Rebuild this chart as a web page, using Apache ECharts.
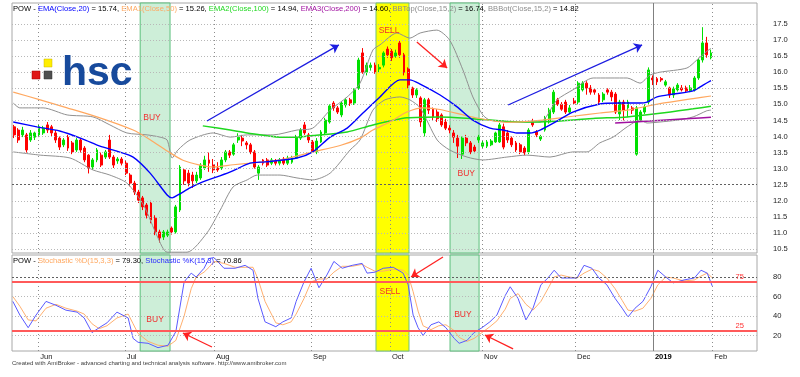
<!DOCTYPE html>
<html>
<head>
<meta charset="utf-8">
<title>POW</title>
<script src="https://cdn.jsdelivr.net/npm/echarts@6/dist/echarts.min.js"></script>
<style>
  html, body { margin: 0; padding: 0; background: #fff; }
  #chart { width: 800px; height: 377px; }
</style>
</head>
<body>
<div id="chart"></div>
<script>
// daily bars, index 0 = first bar on the left: [open, close, low, high]
const ohlc = [
  [14.30,14.05,13.95,14.36],[14.20,13.89,13.80,14.26],[14.05,14.20,13.98,14.30],[14.05,13.58,13.50,14.11],
  [13.89,14.11,13.83,14.20],[13.98,14.11,13.89,14.15],[14.05,14.30,13.98,14.36],[14.11,14.26,14.05,14.33],
  [14.36,14.20,14.11,14.45],[14.30,14.11,14.00,14.36],[14.11,13.89,13.80,14.20],[13.95,13.67,13.58,14.00],
  [13.74,13.89,13.67,13.95],[13.98,13.64,13.55,14.05],[13.80,13.52,13.45,13.86],[13.58,13.89,13.52,13.95],
  [13.89,13.58,13.50,13.95],[13.64,13.27,13.20,13.70],[13.42,13.02,12.85,13.45],[13.05,13.27,12.96,13.33],
  [13.27,13.58,13.20,13.64],[13.42,13.11,13.05,13.50],[13.36,13.52,13.30,13.58],[13.89,13.36,13.30,14.05],
  [13.36,13.11,13.02,13.42],[13.24,13.30,13.15,13.36],[13.30,13.17,13.10,13.36],[13.17,12.86,12.80,13.24],
  [12.80,12.55,12.45,12.86],[12.55,12.27,12.18,12.62],[12.27,12.02,11.93,12.34],[12.09,11.81,11.71,12.15],
  [11.87,11.55,11.45,11.93],[11.93,11.40,11.30,12.00],[11.46,11.03,10.93,11.55],[11.03,10.84,10.70,11.10],
  [10.87,11.03,10.78,11.09],[10.93,11.03,10.87,11.10],[11.15,11.03,10.95,11.20],[11.03,11.81,10.98,11.87],
  [11.71,13.05,11.65,13.11],[12.96,12.62,12.50,13.02],[12.86,12.55,12.45,12.96],[12.80,12.62,12.40,12.90],
  [12.62,12.80,12.55,12.90],[12.71,13.11,12.65,13.17],[13.02,13.27,12.96,13.40],[13.27,13.17,12.90,13.50],
  [13.11,12.96,12.86,13.30],[13.02,12.96,12.90,13.20],[13.02,13.27,12.96,13.36],[13.27,13.52,13.20,13.58],
  [13.52,13.42,13.33,13.58],[13.45,13.74,13.40,13.80],[13.89,13.98,13.80,14.10],[13.95,13.86,13.70,14.05],
  [13.80,13.74,13.60,13.86],[13.74,13.52,13.45,13.80],[13.52,13.05,13.00,13.58],[12.86,13.05,12.65,13.11],
  [13.27,13.17,13.10,13.30],[13.27,13.11,13.05,13.33],[13.17,13.27,13.11,13.33],[13.24,13.17,13.10,13.30],
  [13.17,13.27,13.10,13.33],[13.30,13.17,13.11,13.36],[13.17,13.33,13.11,13.40],[13.20,13.33,13.15,13.40],
  [13.33,13.98,13.30,14.05],[13.95,14.20,13.89,14.26],[14.36,14.11,14.05,14.45],[14.05,13.89,13.80,14.11],
  [13.83,13.52,13.49,13.89],[13.52,13.86,13.45,13.95],[13.83,14.14,13.80,14.20],[14.11,14.51,14.05,14.58],
  [14.45,14.95,14.40,15.00],[15.04,14.89,14.80,15.10],[14.89,14.76,14.70,14.95],[14.67,15.04,14.60,15.10],
  [14.98,15.14,14.90,15.20],[15.14,15.04,14.95,15.20],[15.04,15.45,14.98,15.50],[15.50,16.38,15.45,16.45],
  [16.60,16.00,15.95,16.75],[16.00,16.22,15.90,16.30],[16.15,16.22,16.05,16.30],[16.22,16.00,15.95,16.30],
  [16.10,16.15,16.00,16.25],[16.22,16.60,16.15,16.65],[16.72,16.54,16.45,16.80],[16.65,16.45,16.35,16.72],
  [16.50,16.60,16.45,16.70],[16.91,16.54,16.45,17.00],[16.54,16.00,15.90,16.60],[16.10,15.60,15.50,16.15],
  [15.51,15.29,15.20,15.55],[15.29,15.45,15.20,15.50],[15.20,14.45,14.30,15.25],[14.11,15.14,14.00,15.20],
  [15.14,14.82,14.70,15.20],[14.85,14.61,14.50,14.90],[14.76,14.55,14.45,14.85],[14.67,14.36,14.30,14.72],
  [14.45,14.26,14.20,14.55],[14.26,14.20,14.10,14.35],[14.11,13.98,13.80,14.20],[13.95,13.70,13.33,14.05],
  [13.45,13.95,13.30,14.00],[13.95,13.80,13.70,14.05],[13.80,13.52,13.45,13.86],[13.67,13.55,13.48,13.74],
  [13.89,13.98,13.80,14.05],[13.70,13.80,13.64,13.86],[13.70,13.83,13.64,13.89],[13.74,13.86,13.70,13.92],
  [13.83,14.11,13.80,14.15],[13.83,14.36,13.80,14.42],[14.30,13.67,13.60,14.40],[14.11,13.89,13.80,14.20],
  [13.95,13.74,13.67,14.00],[13.80,13.58,13.52,13.86],[13.74,13.52,13.45,13.80],[13.64,13.49,13.42,13.70],
  [13.52,14.20,13.45,14.26],[14.45,14.36,14.30,14.55],[14.14,14.05,13.98,14.20],[13.92,14.00,13.86,14.05],
  [14.20,14.58,14.15,14.64],[14.45,14.82,14.40,14.89],[14.76,15.38,14.70,15.45],[15.14,15.00,14.95,15.20],
  [15.00,14.85,14.80,15.07],[15.07,14.76,14.70,15.14],[14.76,14.89,14.70,14.98],[15.10,15.04,14.98,15.20],
  [15.07,15.66,15.00,15.72],[15.45,15.66,15.40,15.72],[15.66,15.51,15.30,15.72],[15.51,15.38,15.30,15.60],
  [15.45,15.38,15.30,15.50],[15.29,15.07,15.00,15.35],[15.14,15.32,15.07,15.38],[15.45,15.38,15.30,15.50],
  [15.38,15.23,15.10,15.45],[15.32,14.76,14.70,15.38],[14.70,15.07,14.51,15.14],[15.07,14.82,14.50,15.14],
  [14.89,15.07,14.60,15.14],[14.89,14.82,14.70,14.95],[13.45,14.89,13.40,14.95],[14.51,14.76,14.45,14.82],
  [14.76,14.92,14.70,15.00],[15.07,16.07,15.00,16.15],[15.82,15.76,15.60,15.90],[15.80,15.70,15.60,15.85],
  [15.80,15.76,15.70,15.85],[15.60,15.70,15.55,15.76],[15.51,15.29,15.20,15.55],[15.29,15.48,15.20,15.55],
  [15.45,15.60,15.40,15.66],[15.51,15.45,15.40,15.60],[15.51,15.42,15.38,15.58],[15.42,15.51,15.38,15.60],
  [15.45,15.82,15.40,15.88],[15.82,16.38,15.76,16.45],[16.38,16.91,16.30,17.40],[16.91,16.54,16.45,17.10],
  [16.45,16.60,16.40,16.70]
];

// overlays: [bar index, value]
const ema20 = [[-0.2,14.45],[5.5,14.30],[11,14.17],[16.6,13.92],[20.7,13.70],[24.6,13.55],[28.7,13.36],
  [32.8,12.86],[36.9,12.18],[38.1,12.09],[39.5,12.18],[42.4,12.40],[44.8,12.55],[52,12.89],[56.9,13.17],
  [60.5,13.21],[68.2,13.33],[72,13.52],[76.2,13.98],[80.3,14.26],[84.1,14.73],[88.2,15.23],[93,15.76],
  [95.4,15.76],[97.9,15.63],[102.7,15.29],[106.8,14.92],[110.6,14.51],[114.7,14.26],[117.9,14.20],
  [121.2,14.11],[124.4,14.11],[126.8,14.20],[130.9,14.48],[134.7,14.76],[141.2,15.01],[146,15.04],
  [150.9,15.04],[152.6,15.07],[155,15.23],[158.9,15.32],[163.7,15.42],[166.1,15.60],[168,15.74]];
const ema50 = [[-0.2,15.38],[6.3,15.14],[12.8,14.89],[20.7,14.58],[28.7,14.20],[32.8,13.90],[36.9,13.55],
  [40.7,13.26],[44.8,13.11],[48,13.05],[52.8,13.12],[58.6,13.19],[64.1,13.27],[72,13.52],[78.6,13.72],
  [83.4,13.95],[86.5,14.20],[90.6,14.45],[94.7,14.76],[98.6,14.89],[102.7,14.84],[110.6,14.60],
  [118.8,14.44],[126.8,14.50],[134.7,14.63],[141.2,14.73],[147.8,14.82],[155.7,15.02],[163.7,15.18],[168,15.26]];
const ema100 = [[45.5,14.33],[52.1,14.20],[56.2,14.11],[64.1,13.98],[68.2,13.98],[72,14.03],[80.3,14.14],
  [86.5,14.36],[94.7,14.58],[102.7,14.61],[110.6,14.55],[118.8,14.47],[126.8,14.45],[134.7,14.51],
  [139.6,14.56],[147.8,14.61],[155.7,14.72],[163.7,14.86],[168,14.94]];
const ema200 = [[144.9,14.42],[153.3,14.48],[163,14.56],[168,14.60]];
const bbTop = [[-0.2,15.04],[1.4,14.89],[7,14.89],[12.8,14.67],[19,14.61],[23.1,14.36],[27.2,14.11],
  [32.1,14.05],[35.2,13.98],[36.9,13.89],[38.1,13.33],[39.5,13.58],[42.4,13.89],[48,14.11],[52.1,13.98],
  [56.2,14.05],[62.4,14.05],[68.2,14.20],[72,14.26],[76.2,14.82],[80.3,15.23],[83.4,15.66],[86.5,16.69],
  [88.2,16.85],[92.3,17.22],[95.4,17.06],[97.9,17.22],[101.9,17.31],[105,17.00],[108.2,16.07],[110.6,15.23],
  [113,14.67],[114.7,14.51],[119.5,14.45],[126.8,14.45],[130.9,15.14],[134.7,15.45],[139.6,15.82],
  [147.8,15.82],[150.9,15.66],[153.3,15.91],[155.7,16.00],[162.2,16.13],[164.6,16.38],[167,16.65],[168,16.74]];
const bbBot = [[-0.2,13.52],[6.3,13.42],[13.5,13.33],[19,12.96],[23.1,12.80],[27.2,12.55],[31.2,11.87],
  [34.6,10.87],[36.9,10.40],[41.7,10.40],[46.5,11.00],[49.7,11.71],[52.8,12.43],[56.2,12.65],[58.6,12.80],
  [64.1,12.80],[68.2,12.71],[72,12.65],[76.2,12.86],[81,13.58],[83.4,13.89],[86.5,14.82],[89.4,15.14],
  [93,15.23],[95.4,15.14],[97.9,14.89],[102,13.89],[105,13.58],[109.2,13.36],[113,13.27],[118.8,13.36],
  [123.6,13.42],[129.2,13.36],[134.7,13.52],[138.1,13.52],[141.2,13.80],[144.4,13.98],[147.8,14.30],
  [150.9,14.51],[152.6,14.42],[155.7,14.45],[159.9,14.51],[163.7,14.61],[167,14.80],[168,14.82]];

const stochK = [[-0.3,55],[1.4,41],[3.4,28],[5.3,41],[7.7,55],[10.1,51],[12.5,46],[15.2,44],[16.9,38],
  [18.8,23],[20.5,28],[22.4,33],[24.8,44],[27.5,38],[28.7,17],[29.9,13],[32.3,12],[34.7,7.5],[37.1,10],
  [39,24],[41,75],[42.7,84],[43.9,80],[45.8,89],[47,99],[48.2,100],[50.6,89],[53.3,89],[55.7,92],[57.6,87],
  [58.8,58],[60.5,34],[63.1,29],[64.8,34],[66.8,38],[68,55],[69.9,75],[71.6,89],[73.5,69],[75.4,82],
  [77.1,96],[79.1,89],[81.5,92],[83.9,94],[85.1,84],[87,85],[89,89],[91.4,90],[93.8,84],[95,72],[96.2,41],
  [97.4,28],[98.6,20],[100.5,31],[102.4,34],[104.1,28],[106.1,17],[107.3,12],[109.2,15],[110.9,23],
  [112.8,28],[114.7,34],[116.4,41],[118.4,61],[119.6,70],[121.5,58],[123.4,36],[125.1,48],[127,72],
  [128.7,79],[130.2,87],[131.9,79],[133.8,79],[135.7,79],[137.4,92],[139.3,89],[141,79],[142.9,72],
  [144.9,58],[146.6,48],[148,39],[149.7,48],[151.6,55],[153.5,70],[155.2,87],[157.1,80],[158.9,74],
  [161.5,77],[164,79],[165.6,87],[167.1,84],[168.3,70.86]];
const stochD = [[-0.3,60],[1.4,50],[3.4,36],[5.3,35],[7.7,48],[10.1,52],[12.5,48],[15.2,45],[16.9,42],
  [18.8,32],[20.5,27],[22.4,30],[24.8,38],[27.5,42],[28.7,32],[29.9,22],[32.3,14],[34.7,10],[37.1,9],
  [39,15],[41,40],[42.7,68],[43.9,80],[45.8,85],[47,90],[48.2,96],[50.6,94],[53.3,90],[55.7,90],[57.6,90],
  [58.8,78],[60.5,55],[63.1,33],[64.8,31],[66.8,34],[68,42],[69.9,58],[71.6,75],[73.5,78],[75.4,78],
  [77.1,85],[79.1,91],[81.5,91],[83.9,93],[85.1,90],[87,86],[89,86],[91.4,88],[93.8,87],[95,82],[96.2,65],
  [97.4,45],[98.6,30],[100.5,26],[102.4,30],[104.1,31],[106.1,25],[107.3,18],[109.2,14],[110.9,17],
  [112.8,23],[114.7,29],[116.4,35],[118.4,47],[119.6,58],[121.5,63],[123.4,52],[125.1,46],[127,55],
  [128.7,68],[130.2,80],[131.9,82],[133.8,80],[135.7,79],[137.4,84],[139.3,88],[141,86],[142.9,79],
  [144.9,68],[146.6,56],[148,46],[149.7,45],[151.6,48],[153.5,58],[155.2,72],[157.1,80],[158.9,79],
  [161.5,76],[164,77],[165.6,81],[167.1,84],[168.3,79.30]];

const priceTicks = [10.5, 11, 11.5, 12, 12.5, 13, 13.5, 14, 14.5, 15, 15.5, 16, 16.5, 17, 17.5];
const stochTicks = [20, 40, 60, 80];
const monthTicks = [5.8, 26.7, 48.2, 71.6, 90.6, 112.8, 135.2, 154.0, 168.3];
const monthNames = ['Jun', 'Jul', 'Aug', 'Sep', 'Oct', 'Nov', 'Dec', '2019', 'Feb'];
const stochLevels = [75, 25];

// annotations drawn on the chart (bar index / value coordinates)
const buyZones = [[30.4, 37.6], [105.1, 112.1]];
const sellZones = [[87.25, 95.2]];
const topNotes = [['BUY', 33.25, 14.58], ['SELL', 90.4, 17.28], ['BUY', 109.0, 12.85]];
const lowNotes = [['BUY', 34.0, 35.9], ['SELL', 90.6, 64.6], ['BUY', 108.2, 41.0]];
const topArrows = [
  [[46.5, 14.48], [78.3, 16.85], '#1c1ce0'],
  [[119.1, 14.98], [151.4, 16.85], '#1c1ce0'],
  [[97.1, 16.94], [104.4, 16.13], '#ff2020']
];
const lowArrows = [
  [[47.7, 8.2], [40.7, 22.6]],
  [[103.4, 100.5], [95.7, 80.0]],
  [[120.3, 6.2], [113.5, 20.5]]
];

const FONT = 'Liberation Sans, Arial, sans-serif';
const FS = 7.6;
const lastVal = a => a[a.length - 1][1].toFixed(2);
const candleData = ohlc.map((d, i) => [i, d[0], d[1], d[2], d[3]]);

const dotted = { color: '#b8b8b8', type: [1, 2], width: 1 };
const vDotted = { color: '#8c8c8c', type: [1, 3], width: 1 };
const darkDotted = { color: '#606060', type: [2, 2], width: 1 };
function hLines(values, dark) {
  return values.map(v => ({ yAxis: v, lineStyle: v === dark ? darkDotted : dotted }));
}
function vLines() {
  return monthTicks.map((v, i) => ({
    xAxis: v,
    lineStyle: monthNames[i] === '2019' ? { color: '#808080', type: 'solid', width: 1 } : vDotted
  }));
}
function zones() {
  const g = buyZones.map(z => [{ xAxis: z[0], itemStyle: { color: '#cdeed8', borderColor: '#5cbf7c', borderWidth: 1 } }, { xAxis: z[1] }]);
  const s = sellZones.map(z => [{ xAxis: z[0], itemStyle: { color: '#ffff00', borderColor: '#72c27a', borderWidth: 1 } }, { xAxis: z[1] }]);
  return g.concat(s);
}
function notes(list) {
  return list.map(n => ({ name: n[0], coord: [n[1], n[2]] }));
}
function arrows(list, color) {
  return list.map(a => [
    { coord: a[0], lineStyle: { color: a[2] || color, width: 1.3, type: 'solid' } },
    { coord: a[1] }
  ]);
}
const noteStyle = {
  symbol: 'rect', symbolSize: 1, silent: true,
  itemStyle: { color: 'rgba(0,0,0,0)' },
  label: { show: true, position: 'inside', formatter: p => p.name, color: '#f03030', fontSize: 8.5, fontFamily: FONT }
};

function lineSeries(name, data, color, width, grid) {
  return {
    name, type: 'line', data, xAxisIndex: grid, yAxisIndex: grid,
    symbol: 'none', smooth: grid === 0 ? 0.25 : false, z: 4,
    lineStyle: { color, width }
  };
}

const topTitle = [
  ['POW - ', '#000'], ['EMA(Close,20)', '#0000ff'], [' = ' + lastVal(ema20) + ', ', '#000'],
  ['EMA1(Close,50)', '#ffa860'], [' = ' + lastVal(ema50) + ', ', '#000'],
  ['EMA2(Close,100)', '#1ed81e'], [' = ' + lastVal(ema100) + ', ', '#000'],
  ['EMA3(Close,200)', '#a010a0'], [' = ' + lastVal(ema200) + ', ', '#000'],
  ['BBTop(Close,15,2)', '#8c8c8c'], [' = ' + lastVal(bbTop) + ', ', '#000'],
  ['BBBot(Close,15,2)', '#8c8c8c'], [' = ' + lastVal(bbBot), '#000']
];
const lowTitle = [
  ['POW - ', '#000'], ['Stochastic %D(15,3,3)', '#ffa860'], [' = ' + lastVal(stochD) + ', ', '#000'],
  ['Stochastic %K(15,3)', '#2a2aff'], [' = ' + lastVal(stochK), '#000']
];
function richTitle(parts) {
  const rich = {};
  let text = '';
  parts.forEach((p, i) => {
    rich['c' + i] = { fill: p[1], color: p[1], fontSize: FS, fontFamily: FONT };
    text += '{c' + i + '|' + p[0] + '}';
  });
  return { text, rich };
}

const chart = echarts.init(document.getElementById('chart'));
const option = {
  animation: false,
  backgroundColor: '#ffffff',
  grid: [
    { left: 12, top: 3, width: 745, height: 250, show: true, borderColor: '#a8a8a8', borderWidth: 1 },
    { left: 12, top: 255, width: 745, height: 96, show: true, borderColor: '#a8a8a8', borderWidth: 1 }
  ],
  xAxis: [
    { gridIndex: 0, type: 'value', min: -0.5, max: 179.1, show: false },
    {
      gridIndex: 1, type: 'value', min: -0.5, max: 179.1,
      axisLine: { show: false }, axisTick: { show: false }, splitLine: { show: false },
      axisLabel: {
        customValues: monthTicks, align: 'left', margin: 2, padding: [0, 0, 0, 2],
        fontSize: FS, fontFamily: FONT, color: '#222',
        formatter: v => {
          let k = 0;
          monthTicks.forEach((m, i) => { if (Math.abs(m - v) < Math.abs(monthTicks[k] - v)) k = i; });
          return monthNames[k] === '2019' ? '{y|2019}' : monthNames[k];
        },
        rich: { y: { fontWeight: 'bold', fontSize: FS, fontFamily: FONT, color: '#000' } }
      }
    }
  ],
  yAxis: [
    {
      gridIndex: 0, type: 'value', position: 'right', min: 10.375, max: 18.153,
      axisLine: { show: false }, axisTick: { show: false }, splitLine: { show: false },
      axisLabel: { customValues: priceTicks, formatter: v => v.toFixed(1), margin: 16, fontSize: FS, fontFamily: FONT, color: '#222' }
    },
    {
      gridIndex: 1, type: 'value', position: 'right', min: 4.1, max: 102.6,
      axisLine: { show: false }, axisTick: { show: false }, splitLine: { show: false },
      axisLabel: { customValues: stochTicks, margin: 16, fontSize: FS, fontFamily: FONT, color: '#222' }
    }
  ],
  series: [
    // top pane
    {
      type: 'line', data: [], xAxisIndex: 0, yAxisIndex: 0, z: 1,
      markArea: { silent: true, label: { show: false }, data: zones() }
    },
    {
      type: 'line', data: [], xAxisIndex: 0, yAxisIndex: 0, z: 2,
      markLine: { silent: true, symbol: 'none', label: { show: false }, data: hLines(priceTicks, 12.5).concat(vLines()) }
    },
    {
      name: 'POW', type: 'candlestick', data: candleData, xAxisIndex: 0, yAxisIndex: 0, z: 3,
      barWidth: 2.4,
      itemStyle: { color: '#00e000', color0: '#ff0000', borderColor: '#00e000', borderColor0: '#ff0000', borderWidth: 1 }
    },
    lineSeries('BBTop', bbTop, '#909090', 1, 0),
    lineSeries('BBBot', bbBot, '#909090', 1, 0),
    lineSeries('EMA200', ema200, '#a010a0', 1.5, 0),
    lineSeries('EMA100', ema100, '#1ed81e', 1.5, 0),
    lineSeries('EMA50', ema50, '#ffa860', 1.2, 0),
    lineSeries('EMA20', ema20, '#0000ff', 1.4, 0),
    {
      type: 'line', data: [], xAxisIndex: 0, yAxisIndex: 0, z: 6,
      markLine: { silent: true, symbol: ['none', 'arrow'], symbolSize: 8, label: { show: false }, data: arrows(topArrows) },
      markPoint: Object.assign({ data: notes(topNotes) }, noteStyle)
    },
    // stochastic pane
    {
      type: 'line', data: [], xAxisIndex: 1, yAxisIndex: 1, z: 1,
      markArea: { silent: true, label: { show: false }, data: zones() }
    },
    {
      type: 'line', data: [], xAxisIndex: 1, yAxisIndex: 1, z: 2,
      markLine: { silent: true, symbol: 'none', label: { show: false }, data: hLines(stochTicks, 80).concat(vLines()) }
    },
    lineSeries('%D', stochD, '#ffb070', 1, 1),
    lineSeries('%K', stochK, '#5a5aff', 1, 1),
    {
      type: 'line', data: [], xAxisIndex: 1, yAxisIndex: 1, z: 5,
      markLine: {
        silent: true, symbol: 'none',
        data: stochLevels.map(v => ({
          yAxis: v, lineStyle: { color: '#ff5a5a', width: 2, type: 'solid' },
          label: { show: true, formatter: String(v), position: 'insideEndTop', distance: [13, 1], color: '#ff3030', fontSize: FS, fontFamily: FONT }
        }))
      }
    },
    {
      type: 'line', data: [], xAxisIndex: 1, yAxisIndex: 1, z: 6,
      markLine: { silent: true, symbol: ['none', 'arrow'], symbolSize: 8, label: { show: false }, data: arrows(lowArrows, '#ff2020') },
      markPoint: Object.assign({ data: notes(lowNotes) }, noteStyle)
    }
  ],
  graphic: [
    { type: 'text', left: 13, top: 5, z: 100, style: Object.assign({ fontSize: FS, fontFamily: FONT }, richTitle(topTitle)) },
    { type: 'text', left: 13, top: 257, z: 100, style: Object.assign({ fontSize: FS, fontFamily: FONT }, richTitle(lowTitle)) },
    { type: 'rect', shape: { x: 44, y: 59, width: 8, height: 8 }, z: 100, style: { fill: '#ffee00', stroke: '#c8b400', lineWidth: 0.5 } },
    { type: 'rect', shape: { x: 32, y: 71, width: 8, height: 8 }, z: 100, style: { fill: '#e01818', stroke: '#a00000', lineWidth: 0.5 } },
    { type: 'rect', shape: { x: 44, y: 71, width: 8, height: 8 }, z: 100, style: { fill: '#505050', stroke: '#303030', lineWidth: 0.5 } },
    { type: 'text', left: 62, top: 53, z: 100, style: { text: 'hsc', fill: '#174a9c', fontSize: 41, fontWeight: 'bold', fontFamily: FONT } },
    {
      type: 'text', left: 12, top: 360, z: 100,
      style: { text: 'Created with AmiBroker - advanced charting and technical analysis software. http://www.amibroker.com', fill: '#404040', fontSize: 6, fontFamily: FONT }
    }
  ]
};
chart.setOption(option);
</script>
</body>
</html>
